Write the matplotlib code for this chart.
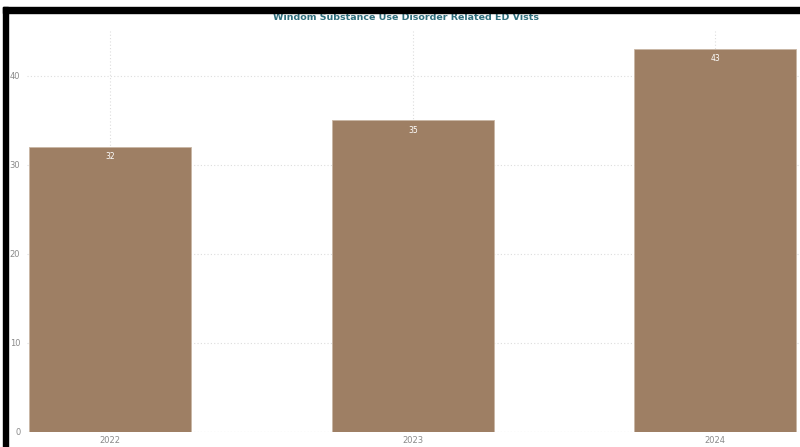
"""Bar chart of substance use disorder related ED visits by year."""

import matplotlib

matplotlib.use("Agg")
import matplotlib.pyplot as plt
from matplotlib.patches import Rectangle

years = ["2022", "2023", "2024"]
visits = [32, 35, 43]
y_ticks = [0, 10, 20, 30, 40]

BAR_COLOR = "#9e7f64"
TICK_COLOR = "#8a8a8a"
TITLE_COLOR = "#2f6e7c"

fig = plt.figure(figsize=(8, 4.47), dpi=100)
ax = fig.add_axes([0.034, 0.0336, 0.966, 0.896])

x = list(range(len(years)))
bars = ax.bar(x, visits, width=0.536, color=BAR_COLOR, edgecolor="#c9b6a4",
              linewidth=0.6, zorder=3)

for rect, v in zip(bars, visits):
    ax.annotate(str(v), (rect.get_x() + rect.get_width() / 2, v),
                xytext=(0, -7), textcoords="offset points",
                ha="center", va="center", color="white", fontsize=5.5, zorder=4)

ax.set_xlim(-0.275, 2.28)
ax.set_ylim(0, 45)
ax.set_xticks(x)
ax.set_xticklabels(years)
ax.set_yticks(y_ticks)

ax.grid(True, color="#dddddd", linestyle=(0, (1, 2)), linewidth=0.8, zorder=0)
ax.axhline(0, color="#dddddd", linestyle=(0, (1, 2)), linewidth=0.8, zorder=1)
for side in ax.spines.values():
    side.set_visible(False)
ax.tick_params(length=0, labelsize=6, colors=TICK_COLOR, pad=3)
ax.tick_params(axis="y", pad=5)

fig.text(0.507, 0.960, "Windom Substance Use Disorder Related ED Vists",
         ha="center", va="center", fontsize=6.8, color=TITLE_COLOR,
         fontweight="semibold")

# black frame along the top and left edges
w, h = 800.0, 447.0
fig.add_artist(Rectangle((3 / w, 1 - 13 / h), 1 - 3 / w, 6 / h,
                         transform=fig.transFigure, color="black", zorder=10))
fig.add_artist(Rectangle((3 / w, 0), 5 / w, 1 - 7 / h,
                         transform=fig.transFigure, color="black", zorder=10))

fig.savefig("out.png", dpi=100)
plt.close(fig)
